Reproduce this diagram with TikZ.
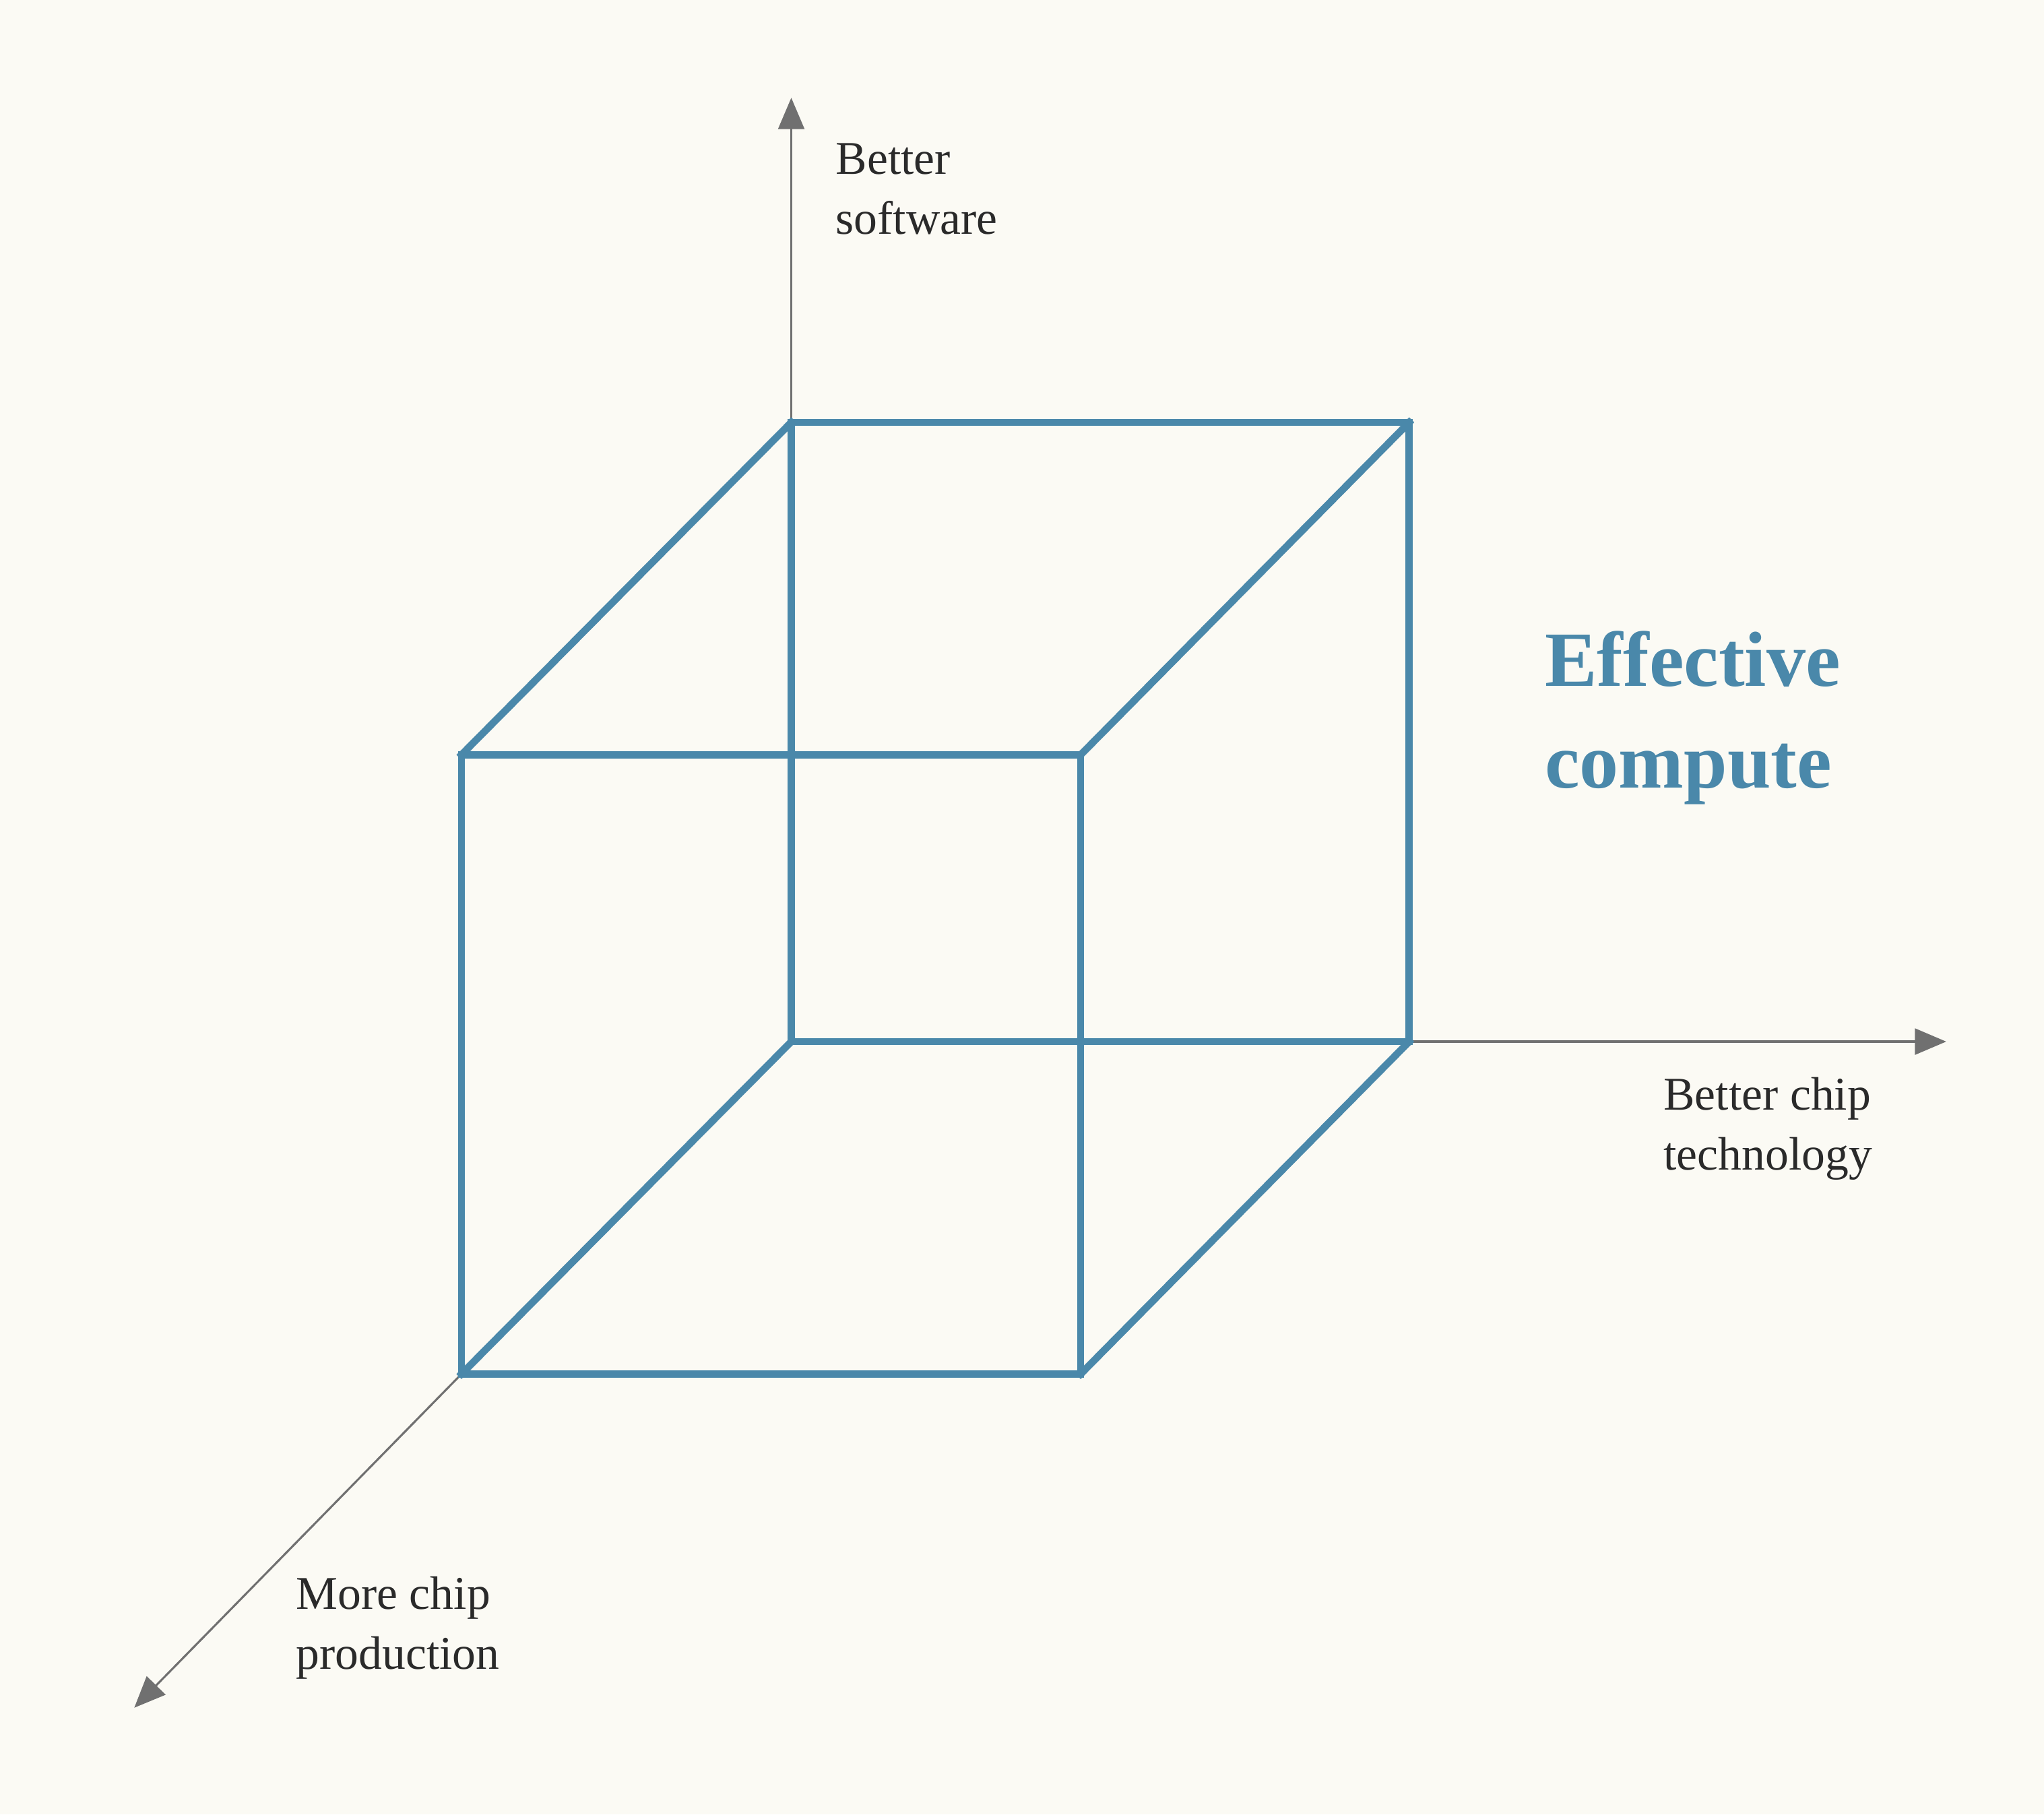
\documentclass[tikz,border=0pt]{standalone}
\usepackage{fontspec}
\setmainfont{Liberation Serif}
\usetikzlibrary{arrows.meta}
\definecolor{bg}{HTML}{FBFAF4}
\definecolor{cube}{HTML}{4A88AA}
\definecolor{axis}{HTML}{707070}
\definecolor{txt}{HTML}{2A2A2A}
\begin{document}
\begin{tikzpicture}[x=1pt,y=-1pt,
  edge/.style={draw=cube,line width=5.5pt,line join=miter,line cap=rect},
  ax/.style={draw=axis,line width=1.6pt,-{Triangle[length=24pt,width=20pt]}},
  lab/.style={text=txt,font=\fontsize{36}{46}\selectfont,align=left,anchor=north west,inner sep=0pt}]
\fill[bg] (0,0) rectangle (1568,1392);
\useasboundingbox (0,0) rectangle (1568,1392);
\coordinate (b1) at (607,324); \coordinate (b2) at (1081,324);
\coordinate (b3) at (1081,799); \coordinate (b4) at (607,799);
\coordinate (f1) at (354,579); \coordinate (f2) at (829,579);
\coordinate (f3) at (829,1054); \coordinate (f4) at (354,1054);
\coordinate (yt) at (607,75); \coordinate (xt) at (1493,799); \coordinate (zt) at (103,1310);
\draw[ax] (b1) -- (yt);
\draw[ax] (b3) -- (xt);
\draw[ax] (f4) -- (zt);
\draw[edge] (b1) -- (b2) -- (b3) -- (b4) -- cycle;
\draw[edge] (f1) -- (f2) -- (f3) -- (f4) -- cycle;
\draw[edge] (b1) -- (f1) (b2) -- (f2) (b3) -- (f3) (b4) -- (f4);
\node[lab] (ys) at (641,110) {Better\\software};
\node[lab] (xs) at (1276,826) {Better chip\\technology};
\node[lab] (zs) at (227,1209) {More chip\\production};
\node[text=cube,font=\bfseries\fontsize{60}{78}\selectfont,align=left,anchor=north west,inner sep=0pt] (ec) at (1185,484) {Effective\\compute};
\end{tikzpicture}
\end{document}
